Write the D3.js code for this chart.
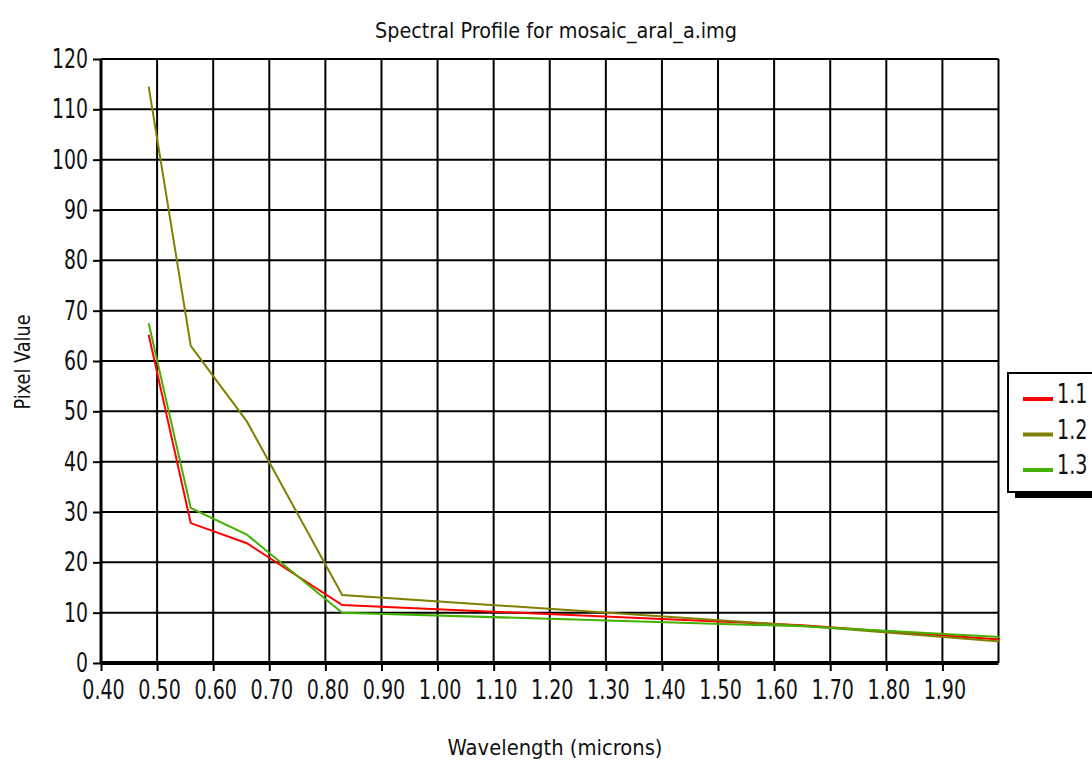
<!DOCTYPE html>
<html>
<head>
<meta charset="utf-8">
<script src="https://cdn.jsdelivr.net/npm/d3@7"></script>
<style>
  body { margin: 0; background: #fff; }
  svg { display: block; }
  text { font-family: "DejaVu Sans", sans-serif; fill: #111; }
</style>
</head>
<body>
<div id="chart"></div>
<script>
// band centres (microns) and pixel values per profile
const wavelengths = [0.485, 0.56, 0.66, 0.83, 1.65, 2.215]
const profile11 = [65.2, 27.8, 23.8, 11.5, 7.5, 3.0]
const profile12 = [114.5, 63.0, 48.0, 13.5, 7.4, 2.4]
const profile13 = [67.5, 30.8, 25.5, 10.0, 7.3, 3.9]
const seriesNames = ["1.1", "1.2", "1.3"]
const seriesColors = ["#ff0000", "#808000", "#44b000"]
const xTicks = d3.range(4, 20).map(d => d / 10)
const yTicks = d3.range(0, 130, 10)

const width = 1092
const height = 760
const margin = {left: 101, right: 998.5, top: 59, bottom: 663}

const series = [profile11, profile12, profile13].map((vals, i) => ({
  name: seriesNames[i],
  color: seriesColors[i],
  points: vals.map((v, j) => ({x: wavelengths[j], y: v}))
}))

// the original uses a narrow bitmap font: squeeze glyphs to its width
function narrowWidth(s) {
  let w = 0
  for (const c of s) w += c === "." ? 6.5 : 12
  return w
}

const svg = d3.select("#chart")
  .append("svg")
  .attr("width", width)
  .attr("height", height)

const x = d3.scaleLinear().domain([0.4, 2.0]).range([margin.left, margin.right])
const y = d3.scaleLinear().domain([0, 120]).range([margin.bottom, margin.top])

// grid
svg.append("g")
  .selectAll("line")
  .data(yTicks.slice(1))
  .join("line")
    .attr("x1", margin.left).attr("x2", margin.right)
    .attr("y1", d => y(d)).attr("y2", d => y(d))
    .attr("stroke", "#000").attr("stroke-width", 2)

svg.append("g")
  .selectAll("line")
  .data(xTicks.slice(1).concat([2.0]))
  .join("line")
    .attr("x1", d => x(d)).attr("x2", d => x(d))
    .attr("y1", margin.top).attr("y2", margin.bottom)
    .attr("stroke", "#000").attr("stroke-width", 2)

// series lines, clipped to the plot
svg.append("clipPath").attr("id", "plotclip")
  .append("rect")
  .attr("x", margin.left).attr("y", margin.top)
  .attr("width", margin.right - margin.left + 1)
  .attr("height", margin.bottom - margin.top)

const line = d3.line().x(d => x(d.x)).y(d => y(d.y))

svg.append("g")
  .attr("clip-path", "url(#plotclip)")
  .selectAll("path")
  .data(series)
  .join("path")
    .attr("d", d => line(d.points))
    .attr("fill", "none")
    .attr("stroke", d => d.color)
    .attr("stroke-width", 2)

// axes
const yAxis = svg.append("g")
  .attr("transform", `translate(${margin.left},0)`)
  .call(d3.axisLeft(y).tickValues(yTicks).tickSize(8).tickPadding(5).tickFormat(d3.format("d")))
yAxis.select(".domain").attr("d", `M0,${margin.bottom}V${margin.top}`)
  .attr("stroke", "#000").attr("stroke-width", 3)
yAxis.selectAll(".tick line").attr("stroke", "#000").attr("stroke-width", 2)
yAxis.selectAll("text").attr("font-size", 27).attr("font-family", null).attr("fill", "#111")
  .attr("textLength", d => narrowWidth(String(d)))
  .attr("lengthAdjust", "spacingAndGlyphs")

const xAxis = svg.append("g")
  .attr("transform", `translate(0,${margin.bottom})`)
  .call(d3.axisBottom(x).tickValues(xTicks).tickSize(8).tickPadding(9).tickFormat(d3.format(".2f")))
xAxis.select(".domain").attr("d", `M${margin.left},0H${margin.right}`)
  .attr("stroke", "#000").attr("stroke-width", 4)
xAxis.selectAll(".tick line").attr("stroke", "#000").attr("stroke-width", 2)
xAxis.selectAll("text").attr("font-size", 27).attr("font-family", null).attr("fill", "#111")
  .attr("dx", 2)
  .attr("textLength", d => narrowWidth(d3.format(".2f")(d)))
  .attr("lengthAdjust", "spacingAndGlyphs")

// titles
svg.append("text")
  .attr("x", 556).attr("y", 38)
  .attr("text-anchor", "middle")
  .attr("font-size", 22)
  .attr("textLength", 362).attr("lengthAdjust", "spacingAndGlyphs")
  .text("Spectral Profile for mosaic_aral_a.img")

svg.append("text")
  .attr("x", 555).attr("y", 755)
  .attr("text-anchor", "middle")
  .attr("font-size", 22)
  .attr("textLength", 215).attr("lengthAdjust", "spacingAndGlyphs")
  .text("Wavelength (microns)")

svg.append("text")
  .attr("transform", "translate(30,362) rotate(-90)")
  .attr("text-anchor", "middle")
  .attr("font-size", 22)
  .attr("textLength", 95).attr("lengthAdjust", "spacingAndGlyphs")
  .text("Pixel Value")

// legend
const legend = svg.append("g").attr("transform", "translate(1008,373)")
legend.append("rect")
  .attr("x", 7).attr("y", 6).attr("width", 100).attr("height", 119)
  .attr("fill", "#000")
legend.append("rect")
  .attr("x", 0).attr("y", 0).attr("width", 100).attr("height", 119)
  .attr("fill", "#fff").attr("stroke", "#000").attr("stroke-width", 2)

const item = legend.selectAll("g.item")
  .data(series)
  .join("g")
    .attr("class", "item")
    .attr("transform", (d, i) => `translate(0,${26 + i * 35.5})`)
item.append("line")
  .attr("x1", 15).attr("x2", 45)
  .attr("stroke", d => d.color).attr("stroke-width", 4)
item.append("text")
  .attr("x", 49).attr("y", 4)
  .attr("font-size", 27)
  .attr("textLength", d => narrowWidth(d.name))
  .attr("lengthAdjust", "spacingAndGlyphs")
  .text(d => d.name)
</script>
</body>
</html>
